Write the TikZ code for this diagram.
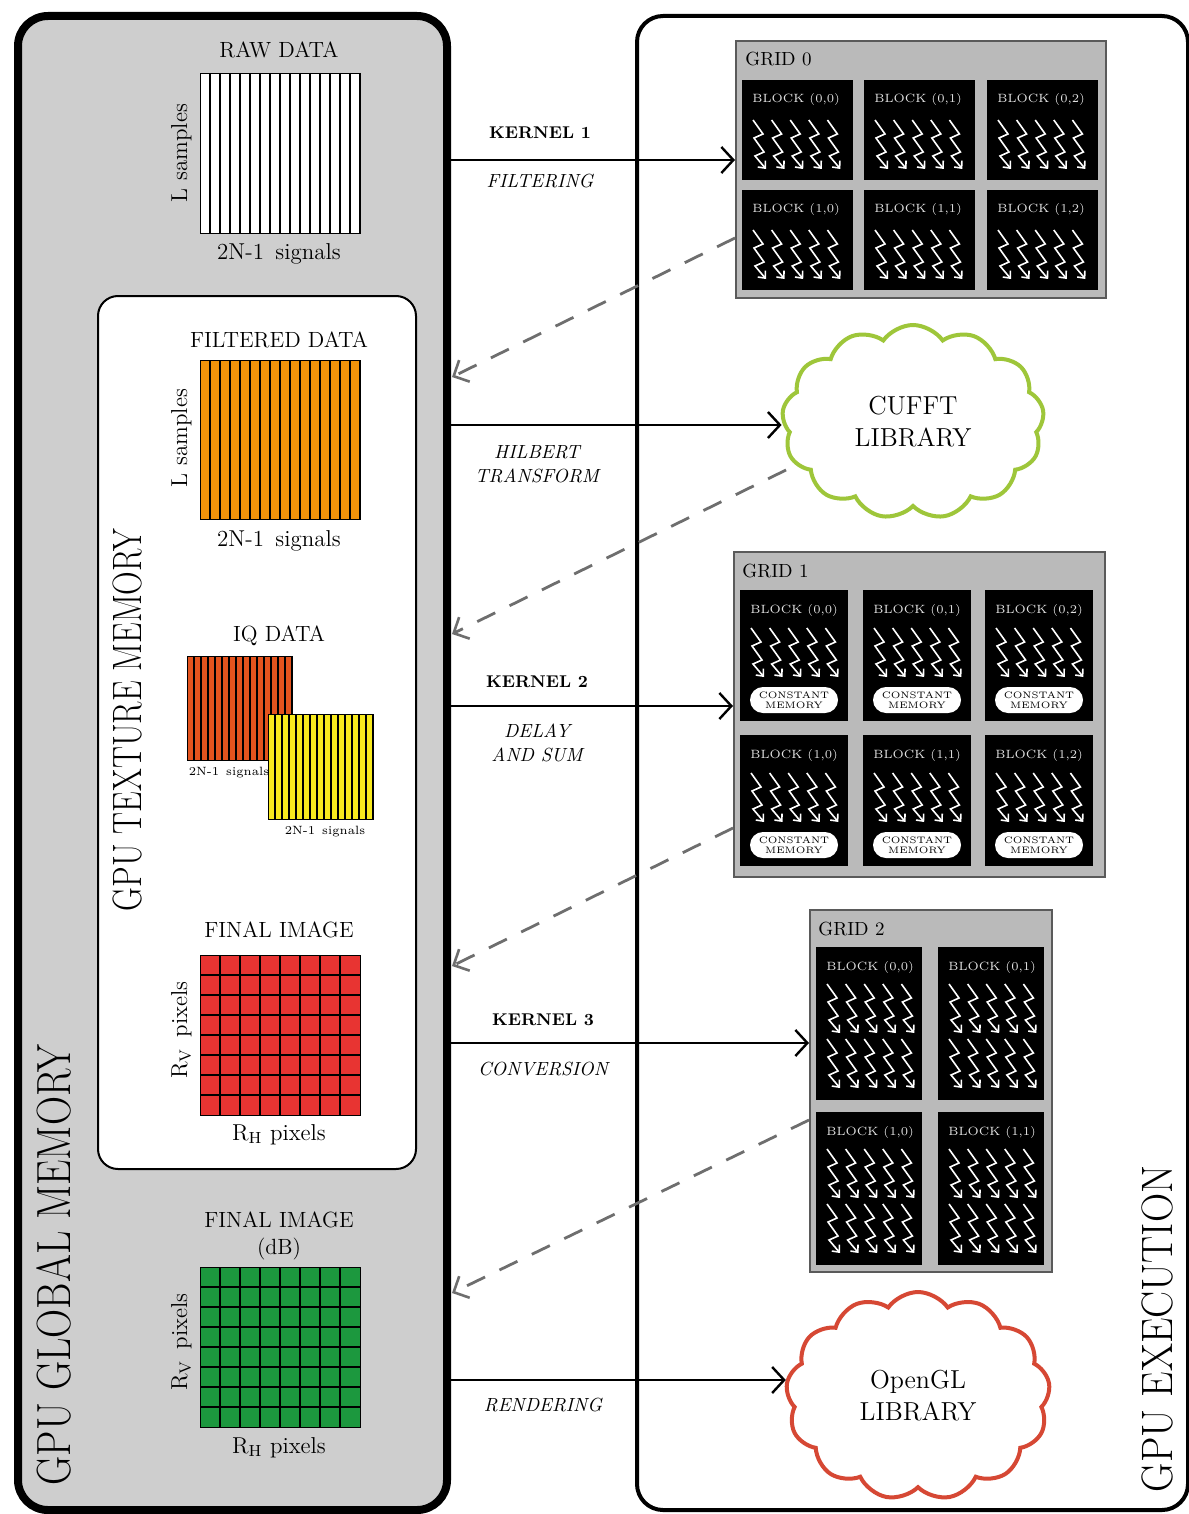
\documentclass[tikz,border=0pt]{standalone}
\usepackage{fontspec}
\usepackage{graphicx}
\usetikzlibrary{arrows.meta,shapes.symbols,calc}

\definecolor{memgray}{RGB}{206,206,206}
\definecolor{gridgray}{RGB}{186,186,186}
\definecolor{gridedge}{RGB}{90,90,90}
\definecolor{filtorange}{RGB}{243,148,10}
\definecolor{iqred}{RGB}{228,84,30}
\definecolor{iqyellow}{RGB}{248,234,30}
\definecolor{imgred}{RGB}{232,52,50}
\definecolor{imggreen}{RGB}{28,152,62}
\definecolor{fftgreen}{RGB}{158,198,58}
\definecolor{glred}{RGB}{214,72,52}
\definecolor{dashgray}{RGB}{110,110,110}
\definecolor{blocktext}{RGB}{225,225,225}

% striped data array: name, x, y, width, height, columns, fill
\newcommand\stripedarray[7]{%
  \node[arraybox, fill=#7, minimum width=#4*0.5pt, minimum height=#5*0.5pt] (#1) at (#2,#3) {};
  \foreach \k in {1,...,#6}{\draw[cellline] ({#2+#4*\k/#6},#3) -- ++(0,#5);}
  \node[arraybox, minimum width=#4*0.5pt, minimum height=#5*0.5pt] at (#2,#3) {};
}
% pixel image: name, x, y, size, fill
\newcommand\pixelarray[5]{%
  \node[arraybox, fill=#5, minimum width=#4*0.5pt, minimum height=#4*0.5pt] (#1) at (#2,#3) {};
  \foreach \k in {1,...,7}{%
    \draw[cellline] ({#2+#4*\k/8},#3) -- ++(0,#4);
    \draw[cellline] (#2,{#3+#4*\k/8}) -- ++(#4,0);}
  \node[arraybox, minimum width=#4*0.5pt, minimum height=#4*0.5pt] at (#2,#3) {};
}
% CUDA block: name, x, y, width, height, index, thread-row offsets
\newcommand\cudablock[7]{%
  \node[blockbox, minimum width=#4*0.5pt, minimum height=#5*0.5pt] (#1) at (#2,#3) {};
  \node[blocklabel] (#1-t) at (#2+10,#3+23) {BLOCK #6};
  \foreach \r in {#7}{\foreach \k in {0,...,4}{\pic at (#2+11+18.6*\k,#3+\r) {bolt};}}
}

\begin{document}
\begin{tikzpicture}[x=0.5pt,y=-0.5pt,
  globalbox/.style={draw=black, line width=4pt, fill=memgray, rounded corners=15pt, inner sep=0, anchor=north west},
  execbox/.style={draw=black, line width=2pt, fill=white, rounded corners=13pt, inner sep=0, anchor=north west},
  texbox/.style={draw=black, line width=1pt, fill=white, rounded corners=10pt, inner sep=0, anchor=north west},
  gridbox/.style={draw=gridedge, line width=1pt, fill=gridgray, inner sep=0, anchor=north west},
  blockbox/.style={fill=black, inner sep=0, anchor=north west},
  blocklabel/.style={text=blocktext, font=\fontsize{6}{7}\selectfont, inner sep=0, anchor=base west},
  gridlabel/.style={font=\fontsize{9.5}{11}\selectfont, inner sep=0, anchor=base west},
  pill/.style={fill=white, rounded corners=6.5pt, minimum width=44pt, minimum height=13pt, inner sep=0,
    align=center, font=\fontsize{4.7}{5.2}\selectfont},
  arraybox/.style={draw=black, line width=0.7pt, inner sep=0, anchor=north west},
  cellline/.style={line width=0.7pt},
  flow/.style={line width=1.2pt, -{Straight Barb[length=6pt,width=13pt,line width=1.2pt]}},
  back/.style={draw=dashgray, line width=1.4pt, dash pattern=on 10pt off 8pt,
    -{Straight Barb[length=6pt,width=12pt,line width=1.3pt]}},
  title/.style={font=\fontsize{11}{13.5}\selectfont, inner sep=0, align=center},
  axis/.style={font=\fontsize{11.5}{13}\selectfont, inner sep=0, anchor=base},
  small/.style={font=\fontsize{6}{7}\selectfont, inner sep=0, anchor=base},
  kname/.style={font=\bfseries\fontsize{8.5}{11}\selectfont, inner sep=0},
  kdesc/.style={font=\itshape\fontsize{9.5}{12}\selectfont, inner sep=0, align=center},
  biglabel/.style={rotate=90, inner sep=0},
  cloudbox/.style={cloud, cloud puffs=13, cloud puff arc=110, cloud ignores aspect, draw, line width=2pt,
    fill=white, inner sep=0, align=center, font=\fontsize{13}{16}\selectfont},
  pics/bolt/.style={code={
    \draw[white, line width=0.8pt, -{Straight Barb[length=2.8pt,width=5pt,line width=0.8pt]}]
      (0,0) -- (10,14) -- (1,18) -- (11,32) -- (2,36) -- (13,49);}}
]
\useasboundingbox (0,0) rectangle (1188,1514);

% memory side
\node[globalbox, minimum width=214.5pt, minimum height=747pt] (gmem) at (14,12) {};
\node[texbox, minimum width=159pt, minimum height=436.5pt] (tmem) at (97,295) {};
\node[biglabel, font=\fontsize{24}{26}\selectfont] (gmem-lbl) at (54,1265) {\scalebox{0.84}[1]{GPU GLOBAL MEMORY}};
\node[biglabel, font=\fontsize{20.5}{22}\selectfont] (tmem-lbl) at (127,720) {\scalebox{0.80}[1]{GPU TEXTURE MEMORY}};

% execution side
\node[execbox, minimum width=275.5pt, minimum height=747pt] (exec) at (635,14) {};
\node[biglabel, font=\fontsize{22}{24}\selectfont] (exec-lbl) at (1157,1329) {\scalebox{0.92}[1]{GPU EXECUTION}};

% raw data
\node[title] (raw-t) at (279,50) {RAW DATA};
\stripedarray{raw}{200}{73}{160}{160}{16}{white}
\node[axis, rotate=90] (raw-l) at (187,153) {L samples};
\node[axis] (raw-s) at (279,260) {2N-1\, signals};

% filtered data
\node[title] (filt-t) at (279,340) {FILTERED DATA};
\stripedarray{filt}{200}{360}{160}{159}{16}{filtorange}
\node[axis, rotate=90] (filt-l) at (187,438) {L samples};
\node[axis] (filt-s) at (279,546) {2N-1\, signals};

% IQ data
\node[title] (iq-t) at (279,636) {IQ DATA};
\stripedarray{iqi}{187}{656}{105}{104}{15}{iqred}
\stripedarray{iqq}{268}{714}{105}{105}{15}{iqyellow}
\node[small] (iqi-s) at (229,775) {2N-1\, signals};
\node[small] (iqq-s) at (325,834) {2N-1\, signals};

% final image
\node[title] (img-t) at (279,930) {FINAL IMAGE};
\pixelarray{img}{200}{955}{160}{imgred}
\node[axis, rotate=90] (img-v) at (187,1030) {R\textsubscript{V}\, pixels};
\node[axis] (img-h) at (279,1140) {R\textsubscript{H} pixels};

% final image in dB
\node[title] (db-t) at (279,1236) {FINAL IMAGE\\(dB)};
\pixelarray{db}{200}{1267}{160}{imggreen}
\node[axis, rotate=90] (db-v) at (187,1342) {R\textsubscript{V}\, pixels};
\node[axis] (db-h) at (279,1453) {R\textsubscript{H} pixels};

% grid 0
\node[gridbox, minimum width=185pt, minimum height=128.5pt] (grid0) at (735,40) {};
\node[gridlabel] (grid0-t) at (745,66) {GRID 0};
\foreach \c/\cx in {0/742,1/864,2/987}{\foreach \r/\ry in {0/80,1/190}{%
  \cudablock{g0b\r\c}{\cx}{\ry}{111}{100}{(\r,\c)}{40}}}

% grid 1
\node[gridbox, minimum width=185.5pt, minimum height=162.5pt] (grid1) at (733,551) {};
\node[gridlabel] (grid1-t) at (742,577) {GRID 1};
\foreach \c/\cx in {0/740,1/863,2/985}{\foreach \r/\ry in {0/590,1/735}{%
  \cudablock{g1b\r\c}{\cx}{\ry}{108}{131}{(\r,\c)}{38}
  \node[pill] (g1b\r\c-m) at (\cx+54,\ry+110) {CONSTANT\\MEMORY};}}

% grid 2
\node[gridbox, minimum width=121pt, minimum height=181pt] (grid2) at (809,909) {};
\node[gridlabel] (grid2-t) at (818,935) {GRID 2};
\foreach \c/\cx in {0/816,1/938}{\foreach \r/\ry in {0/947,1/1112}{%
  \cudablock{g2b\r\c}{\cx}{\ry}{106}{153}{(\r,\c)}{37,92}}}

% libraries
\node[cloudbox, draw=fftgreen, minimum width=131pt, minimum height=97pt] (cufft) at (913,422) {CUFFT\\LIBRARY};
\node[cloudbox, draw=glred, minimum width=132pt, minimum height=104pt] (opengl) at (918,1396) {OpenGL\\LIBRARY};

% forward calls
\coordinate (k1) at (443,160);
\coordinate (ht) at (443,425);
\coordinate (k2) at (443,706);
\coordinate (k3) at (443,1043);
\coordinate (rd) at (443,1380);
\draw[flow] (k1) -- (k1 -| grid0.west);
\draw[flow] (ht) -- (ht -| cufft.west);
\draw[flow] (k2) -- (k2 -| grid1.west);
\draw[flow] (k3) -- (k3 -| grid2.west);
\draw[flow] (rd) -- (rd -| opengl.west);

\node[kname] (k1-n) at (540,133) {KERNEL 1};
\node[kdesc] (k1-d) at (540,181) {FILTERING};
\node[kdesc] (ht-d) at (537,464) {HILBERT\\TRANSFORM};
\node[kname] (k2-n) at (537,682) {KERNEL 2};
\node[kdesc] (k2-d) at (537,743) {DELAY\\AND SUM};
\node[kname] (k3-n) at (543,1020) {KERNEL 3};
\node[kdesc] (k3-d) at (543,1069) {CONVERSION};
\node[kdesc] (rd-d) at (543,1405) {RENDERING};

% results written back
\coordinate (b1s) at (735,238);  \coordinate (b1e) at (452,377);
\coordinate (b2s) at (786,470);  \coordinate (b2e) at (452,634);
\coordinate (b3s) at (733,828);  \coordinate (b3e) at (452,966);
\coordinate (b4s) at (809,1120); \coordinate (b4e) at (452,1293);
\draw[back] (b1s) -- (b1e);
\draw[back] (b2s) -- (b2e);
\draw[back] (b3s) -- (b3e);
\draw[back] (b4s) -- (b4e);
\end{tikzpicture}
\end{document}
